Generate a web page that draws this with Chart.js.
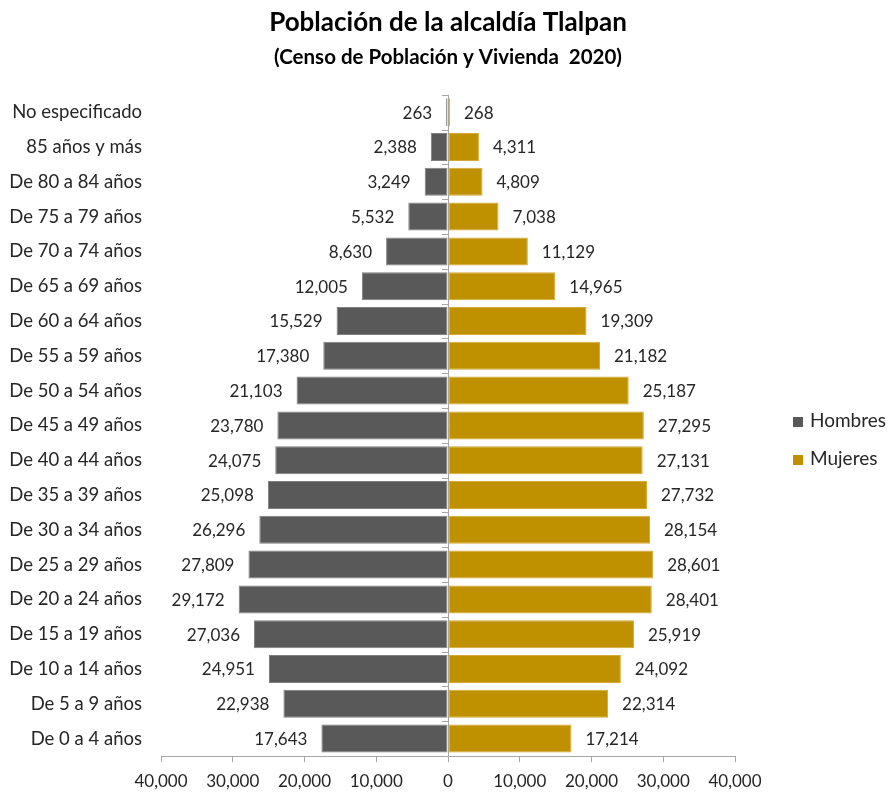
<!DOCTYPE html>
<html>
<head>
<meta charset="utf-8">
<script src="https://cdn.jsdelivr.net/npm/chart.js@4.4.0/dist/chart.umd.min.js"></script>
<style>
  body { margin: 0; background: #fff; }
  #wrap { position: relative; width: 889px; height: 793px; }
  #myChart { display: block; }
  .legend { position: absolute; left: 793px; top: 0; font-family: Lato, 'Open Sans', sans-serif; font-size: 19px; color: #262626; }
  .legend .item { position: absolute; white-space: nowrap; line-height: 20px; }
  .legend .box { display: inline-block; width: 10px; height: 10px; margin-right: 7px; vertical-align: 0px; }
</style>
</head>
<body>
<div id="wrap">
  <canvas id="myChart" width="889" height="793"></canvas>
  <div class="legend" id="legend"></div>
</div>
<script>
// age groups, top to bottom
const ageGroups = [
  "No especificado", "85 años y más", "De 80 a 84 años", "De 75 a 79 años",
  "De 70 a 74 años", "De 65 a 69 años", "De 60 a 64 años", "De 55 a 59 años",
  "De 50 a 54 años", "De 45 a 49 años", "De 40 a 44 años", "De 35 a 39 años",
  "De 30 a 34 años", "De 25 a 29 años", "De 20 a 24 años", "De 15 a 19 años",
  "De 10 a 14 años", "De 5 a 9 años", "De 0 a 4 años"
];
const hombres = [263, 2388, 3249, 5532, 8630, 12005, 15529, 17380, 21103, 23780,
  24075, 25098, 26296, 27809, 29172, 27036, 24951, 22938, 17643];
const mujeres = [268, 4311, 4809, 7038, 11129, 14965, 19309, 21182, 25187, 27295,
  27131, 27732, 28154, 28601, 28401, 25919, 24092, 22314, 17214];
const xTicks = [-40000, -30000, -20000, -10000, 0, 10000, 20000, 30000, 40000];

const fontFam = "Lato, 'Open Sans', sans-serif";
const fmt = (v) => Math.abs(v).toLocaleString("en-US");

// value labels next to each bar + small ticks on the zero line
const barLabels = {
  id: "barLabels",
  afterDatasetsDraw(chart) {
    const ctx = chart.ctx;
    ctx.save();
    ctx.font = "17px " + fontFam;
    ctx.fillStyle = "#262626";
    ctx.textBaseline = "middle";
    chart.data.datasets.forEach((ds, di) => {
      chart.getDatasetMeta(di).data.forEach((bar, i) => {
        const v = ds.data[i];
        if (v < 0) {
          ctx.textAlign = "right";
          ctx.fillText(fmt(v), bar.x - 14, bar.y + 1);
        } else {
          ctx.textAlign = "left";
          ctx.fillText(fmt(v), bar.x + 14, bar.y + 1);
        }
      });
    });
    // category tick marks on the vertical axis
    const x0 = chart.scales.x.getPixelForValue(0);
    const ys = chart.scales.y;
    ctx.strokeStyle = "#a6a6a6";
    ctx.lineWidth = 1;
    for (let i = 0; i <= ageGroups.length; i++) {
      const y = Math.round(ys.getPixelForValue(i - 0.5)) + 0.5;
      ctx.beginPath();
      ctx.moveTo(x0 - 6, y);
      ctx.lineTo(x0, y);
      ctx.stroke();
    }
    ctx.restore();
  }
};

const ctx = document.getElementById("myChart").getContext("2d");
const myChart = new Chart(ctx, {
  type: "bar",
  data: {
    labels: ageGroups,
    datasets: [
      {
        label: "Hombres",
        data: hombres.map(v => -v),
        backgroundColor: "#595959",
        borderColor: "#7f7f7f",
        borderWidth: 1,
        borderSkipped: false,
        categoryPercentage: 0.805,
        barPercentage: 1
      },
      {
        label: "Mujeres",
        data: mujeres,
        backgroundColor: "#bf9000",
        borderColor: "#d4aa33",
        borderWidth: 1,
        borderSkipped: false,
        categoryPercentage: 0.805,
        barPercentage: 1
      }
    ]
  },
  options: {
    indexAxis: "y",
    responsive: false,
    animation: false,
    layout: { padding: { left: 9, right: 2, top: 5, bottom: 0 } },
    scales: {
      x: {
        stacked: true,
        min: -40000,
        max: 40000,
        afterBuildTicks: (axis) => { axis.ticks = xTicks.map(v => ({ value: v })); },
        afterFit: (scale) => { scale.height = 37; },
        ticks: {
          callback: (v) => fmt(v),
          font: { family: fontFam, size: 17 },
          color: "#262626",
          padding: 9,
          maxRotation: 0
        },
        grid: {
          color: (c) => (c.tick && c.tick.value === 0 ? "#a6a6a6" : "transparent"),
          tickColor: "#a6a6a6",
          tickLength: 6,
          drawTicks: true
        },
        border: { display: true, color: "#a6a6a6" }
      },
      y: {
        stacked: true,
        afterFit: (scale) => { scale.width = 152; },
        ticks: {
          font: { family: fontFam, size: 18.5 },
          color: "#262626",
          padding: 19
        },
        grid: { display: false, drawTicks: false },
        border: { display: false }
      },
      // empty box on the right that keeps room for the legend
      legendSpace: {
        type: "linear",
        position: "right",
        afterFit: (scale) => { scale.width = 152; },
        ticks: { display: false },
        grid: { display: false, drawTicks: false },
        border: { display: false }
      }
    },
    plugins: {
      title: {
        display: true,
        text: "Población de la alcaldía Tlalpan",
        font: { family: fontFam, size: 26, weight: "bold" },
        color: "#000",
        padding: { top: 2, bottom: 7 }
      },
      subtitle: {
        display: true,
        text: "(Censo de Población y Vivienda  2020)",
        font: { family: fontFam, size: 20.5, weight: "bold" },
        color: "#000",
        padding: { bottom: 25 }
      },
      legend: { display: false },
      tooltip: { enabled: false }
    }
  },
  plugins: [barLabels]
});

// legend built from the datasets
const legendEl = document.getElementById("legend");
const legendTops = [410, 448];
myChart.data.datasets.forEach((ds, i) => {
  const item = document.createElement("div");
  item.className = "item";
  item.style.top = legendTops[i] + "px";
  const box = document.createElement("span");
  box.className = "box";
  box.style.background = ds.backgroundColor;
  item.appendChild(box);
  item.appendChild(document.createTextNode(ds.label));
  legendEl.appendChild(item);
});
</script>
</body>
</html>
